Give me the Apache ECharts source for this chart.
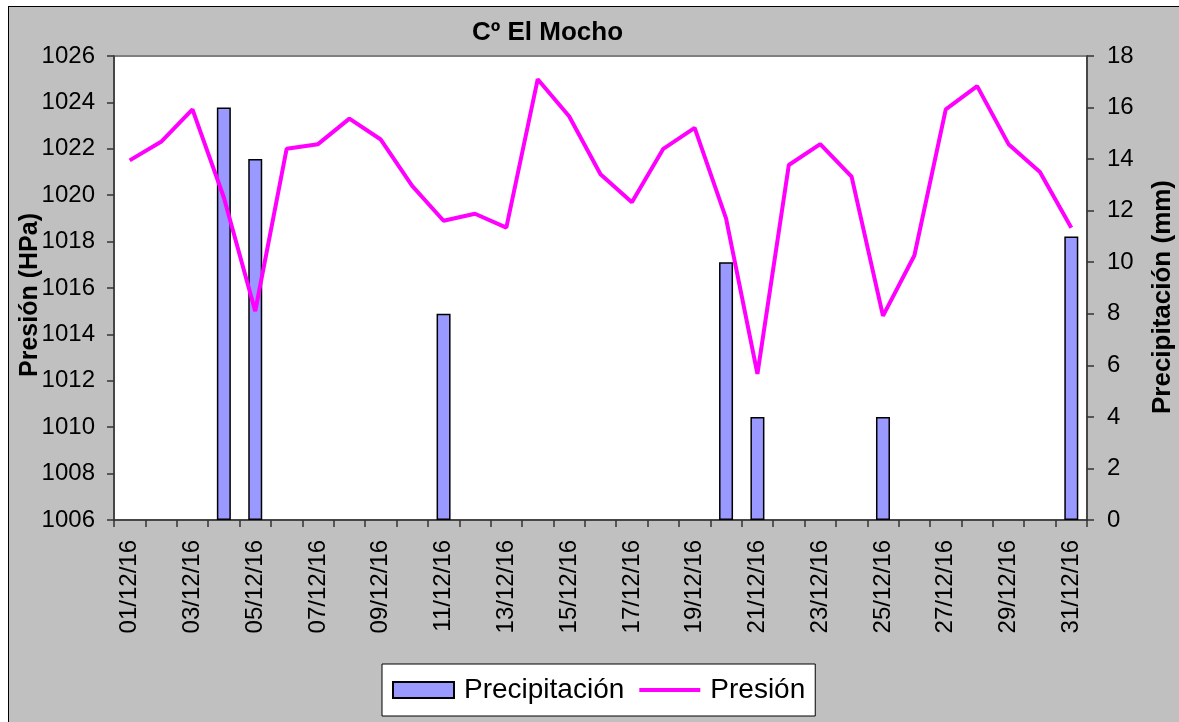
<!DOCTYPE html>
<html>
<head>
<meta charset="utf-8">
<script src="https://cdn.jsdelivr.net/npm/echarts@6/dist/echarts.min.js"></script>
<style>
html,body{margin:0;padding:0;background:#fff;}
#frame{position:absolute;left:8px;top:6px;width:1200px;height:800px;background:#c0c0c0;border-left:1.5px solid #000;border-top:1.5px solid #000;}
#chart{position:absolute;left:0;top:0;width:1179px;height:722px;}
</style>
</head>
<body>
<div id="frame"></div>
<div id="chart"></div>
<script>
const categories = ['01/12/16','02/12/16','03/12/16','04/12/16','05/12/16','06/12/16','07/12/16','08/12/16','09/12/16','10/12/16',
  '11/12/16','12/12/16','13/12/16','14/12/16','15/12/16','16/12/16','17/12/16','18/12/16','19/12/16','20/12/16',
  '21/12/16','22/12/16','23/12/16','24/12/16','25/12/16','26/12/16','27/12/16','28/12/16','29/12/16','30/12/16','31/12/16'];
const precipitacion = [0,0,0,16,14,0,0,0,0,0, 8,0,0,0,0,0,0,0,0,10, 4,0,0,0,4,0,0,0,0,0,11];
const presion = [1021.5,1022.3,1023.7,1019.9,1015.0,1022.0,1022.2,1023.3,1022.4,1020.4,
  1018.9,1019.2,1018.6,1025.0,1023.4,1020.9,1019.7,1022.0,1022.9,1019.0,
  1012.3,1021.3,1022.2,1020.8,1014.8,1017.4,1023.7,1024.7,1022.2,1021.0,1018.6];

const FONT = 'Liberation Sans';
const LINE_ICON = 'path://M0,0L0.05,0L0.05,0.05Z M0,6L61,6L61,10L0,10Z M60.95,15.95L61,15.95L61,16Z';
const chart = echarts.init(document.getElementById('chart'), null, {renderer:'canvas'});
chart.setOption({
  backgroundColor: 'transparent',
  animation: false,
  textStyle: {fontFamily: FONT},
  title: {
    text: 'Cº El Mocho', left: 467, top: 15,
    textStyle: {fontFamily: FONT, fontSize: 26, fontWeight: 'bold', color: '#000'}
  },
  legend: {
    left: 382, top: 664,
    backgroundColor: '#fff', borderColor: '#000', borderWidth: 1,
    padding: [12, 10, 12, 10],
    itemWidth: 61, itemHeight: 16, itemGap: 15,
    textStyle: {fontFamily: FONT, fontSize: 28, color: '#000', padding: [0, 0, 0, 5]},
    data: [
      {name: 'Precipitación', icon: 'rect'},
      {name: 'Presión', icon: LINE_ICON, itemStyle: {color: '#FF00FF', borderWidth: 0}}
    ]
  },
  grid: {
    left: 114, right: 92, top: 56, bottom: 202,
    outerBoundsMode: 'none', containLabel: false,
    show: true, backgroundColor: '#fff', borderColor: '#808080', borderWidth: 2
  },
  xAxis: {
    type: 'category', data: categories, boundaryGap: true,
    axisLine: {lineStyle: {color: '#333', width: 1.5}},
    axisTick: {show: true, interval: 0, length: 7, lineStyle: {color: '#333', width: 1.5}},
    axisLabel: {interval: 1, rotate: 90, margin: 20, fontFamily: FONT, fontSize: 24, color: '#000'}
  },
  yAxis: [{
    type: 'value', min: 1006, max: 1026, interval: 2, position: 'left',
    name: 'Presión (HPa)', nameLocation: 'middle', nameGap: 71, nameMoveOverlap: false,
    nameTextStyle: {fontFamily: FONT, fontSize: 25, fontWeight: 'bold', color: '#000', padding: [0, 14, 0, 0]},
    axisLine: {show: true, lineStyle: {color: '#333', width: 1.5}},
    axisTick: {show: true, length: 7, lineStyle: {color: '#333', width: 1.5}},
    axisLabel: {margin: 19, fontFamily: FONT, fontSize: 24, color: '#000', formatter: v => String(v)},
    splitLine: {show: false}
  }, {
    type: 'value', min: 0, max: 18, interval: 2, position: 'right',
    name: 'Precipitación (mm)', nameLocation: 'middle', nameGap: 63, nameMoveOverlap: false,
    nameTextStyle: {fontFamily: FONT, fontSize: 26, fontWeight: 'bold', color: '#000', padding: [0, 18, 0, 0]},
    axisLine: {show: true, lineStyle: {color: '#333', width: 1.5}},
    axisTick: {show: true, length: 7, lineStyle: {color: '#333', width: 1.5}},
    axisLabel: {margin: 20, fontFamily: FONT, fontSize: 24, color: '#000', formatter: v => String(v)},
    splitLine: {show: false}
  }],
  series: [{
    name: 'Precipitación', type: 'bar', yAxisIndex: 1,
    data: precipitacion.map(v => v === 0 ? null : v),
    barWidth: 14,
    itemStyle: {color: '#9999FF', borderColor: '#000', borderWidth: 1.5}
  }, {
    name: 'Presión', type: 'line', yAxisIndex: 0, data: presion,
    symbol: 'none', showSymbol: false,
    lineStyle: {color: '#FF00FF', width: 4},
    itemStyle: {color: '#FF00FF'}
  }]
});
</script>
</body>
</html>
